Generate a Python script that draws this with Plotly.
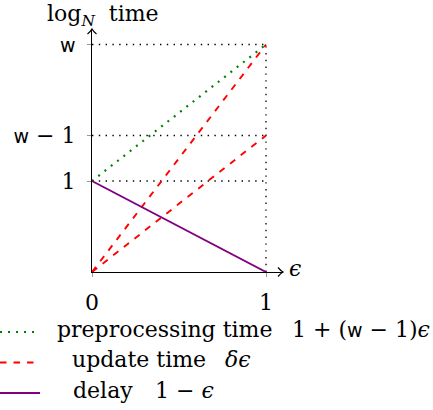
import plotly.graph_objects as go

# ---- data (drawing units: w is placed at 2.5) ----
eps = [0, 1]
W = 2.5
preprocessing = [1, W]          # 1 + (w-1) eps
update_fast = [0, W]            # delta eps with delta = w
update_slow = [0, W - 1]        # delta eps with delta = w-1
delay = [1, 0]                  # 1 - eps
guide_levels = [1, W - 1, W]

SANS_W = '<span style="font-family:DejaVu Sans;font-size:19px">w</span>'
ytick_vals = [1, W - 1, W]
ytick_text = ['1', SANS_W + ' − 1', SANS_W]
xtick_vals = [0, 1]
xtick_text = ['0', '1']

legend_rows = [
    dict(name='preprocessing time', formula='1 + (' + SANS_W + ' − 1)<i>ϵ</i>',
         color='#008000', dash='2px,6px'),
    dict(name='update time', formula='<i>δϵ</i>', color='#ff0000', dash='6.5px,7px'),
    dict(name='delay', formula='1 − <i>ϵ</i>', color='#800080', dash='solid'),
]

# ---- pixel geometry helpers ----
OFF = 0
FW, FH = 433 - OFF, 410 - OFF
L, T, PW, PH = 92 - OFF, 29 - OFF, 191, 243
BOTTOM = T + PH
X_UNIT = 174.0
Y_UNIT = 91.0
SERIF = 'DejaVu Serif'


def px(xp):
    return (xp - OFF - L) / PW


def py(yp):
    return (BOTTOM - (yp - OFF)) / PH


fig = go.Figure()
for lvl in guide_levels:
    fig.add_trace(go.Scatter(x=[eps[0], eps[1]], y=[lvl, lvl], mode='lines',
                             line=dict(color='black', width=1.3, dash='1.4px,5.4px'),
                             hoverinfo='skip'))
fig.add_trace(go.Scatter(x=[eps[1], eps[1]], y=[0, W], mode='lines',
                         line=dict(color='black', width=1.3, dash='1.4px,5.4px'),
                         hoverinfo='skip'))
fig.add_trace(go.Scatter(x=eps, y=preprocessing, mode='lines',
                         line=dict(color='#008000', width=2.2, dash='2px,6px')))
fig.add_trace(go.Scatter(x=eps, y=update_fast, mode='lines',
                         line=dict(color='#ff0000', width=1.9, dash='6.5px,7px')))
fig.add_trace(go.Scatter(x=eps, y=update_slow, mode='lines',
                         line=dict(color='#ff0000', width=1.9, dash='6.5px,7px')))
fig.add_trace(go.Scatter(x=eps, y=delay, mode='lines',
                         line=dict(color='#800080', width=1.9)))

shapes = []
shapes.append(dict(type='path', xref='paper', yref='paper', xsizemode='pixel', ysizemode='pixel',
                   xanchor=1, yanchor=0, path='M-5,4.5 Q-2,1 0,0 Q-2,-1 -5,-4.5',
                   line=dict(color='black', width=1.2)))
shapes.append(dict(type='path', xref='paper', yref='paper', xsizemode='pixel', ysizemode='pixel',
                   xanchor=0, yanchor=1, path='M-4.5,-5 Q-1,-2 0,0 Q1,-2 4.5,-5',
                   line=dict(color='black', width=1.2)))

annotations = []
annotations.append(dict(xref='paper', yref='paper', x=px(103), y=py(16), xanchor='center',
                        yanchor='middle', showarrow=False,
                        text='log<sub><i>N</i></sub>  time'))
annotations.append(dict(xref='paper', yref='paper', x=px(287), y=py(268), xanchor='left',
                        yanchor='middle', showarrow=False, text='<i>ϵ</i>'))

row_y = [332, 362.5, 393]
name_x = [55, 70, 71]
formula_x = [290, 223, 153]
for r, yy, nx, fx in zip(legend_rows, row_y, name_x, formula_x):
    shapes.append(dict(type='line', xref='paper', yref='paper', x0=px(0), x1=px(40),
                       y0=py(yy), y1=py(yy),
                       line=dict(color=r['color'], width=2, dash=r['dash'])))
    annotations.append(dict(xref='paper', yref='paper', x=px(nx), y=py(yy - 3), xanchor='left',
                            yanchor='middle', showarrow=False, text=r['name']))
    annotations.append(dict(xref='paper', yref='paper', x=px(fx), y=py(yy - 3), xanchor='left',
                            yanchor='middle', showarrow=False, text=r['formula']))

fig.update_layout(
    width=FW, height=FH,
    margin=dict(l=L, r=FW - L - PW, t=T, b=FH - BOTTOM, pad=0, autoexpand=False),
    paper_bgcolor='white', plot_bgcolor='white',
    showlegend=False,
    font=dict(family=SERIF, size=22, color='black'),
    shapes=shapes, annotations=annotations,
    xaxis=dict(range=[0, PW / X_UNIT], showgrid=False, zeroline=False, showline=True,
               linecolor='black', linewidth=1.3, ticks='outside', ticklen=4, tickcolor='#999',
               tickvals=xtick_vals, ticktext=xtick_text, ticklabelstandoff=6, fixedrange=True,
               automargin=False),
    yaxis=dict(range=[0, PH / Y_UNIT], showgrid=False, zeroline=False, showline=True,
               linecolor='black', linewidth=1.3, ticks='outside', ticklen=4, tickcolor='#999',
               tickvals=ytick_vals, ticktext=ytick_text, ticklabelstandoff=7, fixedrange=True,
               automargin=False),
)

fig.write_html('out.html', config={'displayModeBar': False},
               post_script="document.body.style.margin='0';document.body.style.overflow='hidden';")
